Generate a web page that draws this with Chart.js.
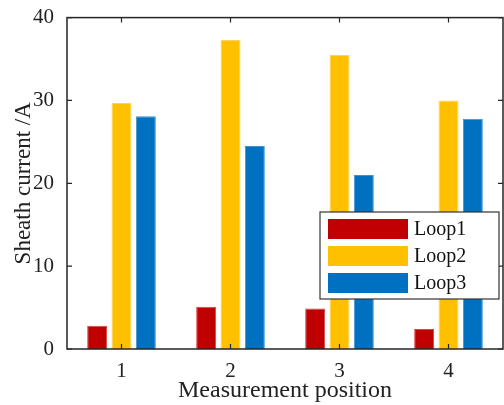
<!doctype html>
<html lang="en">
<head>
<meta charset="UTF-8">
<script src="https://cdn.jsdelivr.net/npm/chart.js"></script>
<title>Sheath current</title>
<style>
  html, body { margin: 0; padding: 0; background: #fff; }
  #wrap { width: 504px; height: 405px; }
</style>
</head>
<body>
<div id="wrap"><canvas id="chart"></canvas></div>
<script>
// data
const positions = ['1', '2', '3', '4'];
const seriesNames = ['Loop1', 'Loop2', 'Loop3'];
const loop1 = [2.8, 5.1, 4.9, 2.4];
const loop2 = [29.7, 37.3, 35.5, 30.0];
const loop3 = [28.1, 24.5, 21.0, 27.8];
const yTicks = [0, 10, 20, 30, 40];

const colors = ['#C00000', '#FFC000', '#0070C0'];
const edges = ['#D64545', '#FFD54F', '#3D93D2'];
const FONT = '"Liberation Serif", "Times New Roman", serif';
const AXIS = '#262626';

// MATLAB-like box with inward ticks + legend inside the axes
const boxPlugin = {
  id: 'box',
  afterDraw(chart) {
    const { ctx, chartArea: a, scales: { x, y } } = chart;
    ctx.save();
    ctx.strokeStyle = AXIS;
    ctx.lineWidth = 1.5;
    ctx.strokeRect(a.left, a.top, a.right - a.left, a.bottom - a.top);
    ctx.lineWidth = 1.2;
    ctx.beginPath();
    const t = 5;
    positions.forEach((p, i) => {
      const px = x.getPixelForValue(i);
      ctx.moveTo(px, a.bottom); ctx.lineTo(px, a.bottom - t);
      ctx.moveTo(px, a.top); ctx.lineTo(px, a.top + t);
    });
    yTicks.forEach(v => {
      const py = y.getPixelForValue(v);
      ctx.moveTo(a.left, py); ctx.lineTo(a.left + t, py);
      ctx.moveTo(a.right, py); ctx.lineTo(a.right - t, py);
    });
    ctx.stroke();

    // legend
    const lx = 320, ly = 212, lw = 179, lh = 87;
    ctx.fillStyle = '#fff';
    ctx.fillRect(lx, ly, lw, lh);
    ctx.strokeStyle = '#333';
    ctx.lineWidth = 1.2;
    ctx.strokeRect(lx, ly, lw, lh);
    ctx.font = '20px ' + FONT;
    ctx.textBaseline = 'middle';
    chart.data.datasets.forEach((ds, i) => {
      const cy = ly + 17 + i * 27;
      ctx.fillStyle = ds.backgroundColor;
      ctx.fillRect(lx + 8, cy - 10, 80, 20);
      ctx.fillStyle = '#111';
      ctx.fillText(ds.label, lx + 94, cy + 1);
    });
    ctx.restore();
  }
};

new Chart(document.getElementById('chart'), {
  type: 'bar',
  data: {
    labels: positions,
    datasets: [loop1, loop2, loop3].map((d, i) => ({
      label: seriesNames[i],
      data: d,
      backgroundColor: colors[i],
      borderColor: edges[i],
      borderWidth: 1,
      categoryPercentage: 0.67,
      barPercentage: 0.82
    }))
  },
  options: {
    responsive: true,
    maintainAspectRatio: false,
    animation: false,
    layout: { padding: { top: 17, right: 1, left: 0, bottom: 0 } },
    plugins: { legend: { display: false }, tooltip: { enabled: false } },
    scales: {
      x: {
        grid: { display: false },
        border: { display: false },
        ticks: { color: '#222', font: { family: FONT, size: 21 }, padding: 2 },
        title: { display: true, text: 'Measurement position', color: '#222',
                 font: { family: FONT, size: 24 }, padding: { top: 0, bottom: 0 } },
        afterFit(s) { s.height = 56; }
      },
      y: {
        min: 0, max: 40,
        afterBuildTicks(s) { s.ticks = yTicks.map(v => ({ value: v })); },
        grid: { display: false },
        border: { display: false },
        ticks: { color: '#222', font: { family: FONT, size: 21 }, padding: 5 },
        title: { display: true, text: 'Sheath current /A', color: '#222',
                 font: { family: FONT, size: 23 }, padding: { top: 10, bottom: 0 } },
        afterFit(s) { s.width = 67; }
      }
    }
  },
  plugins: [boxPlugin]
});
</script>
</body>
</html>
